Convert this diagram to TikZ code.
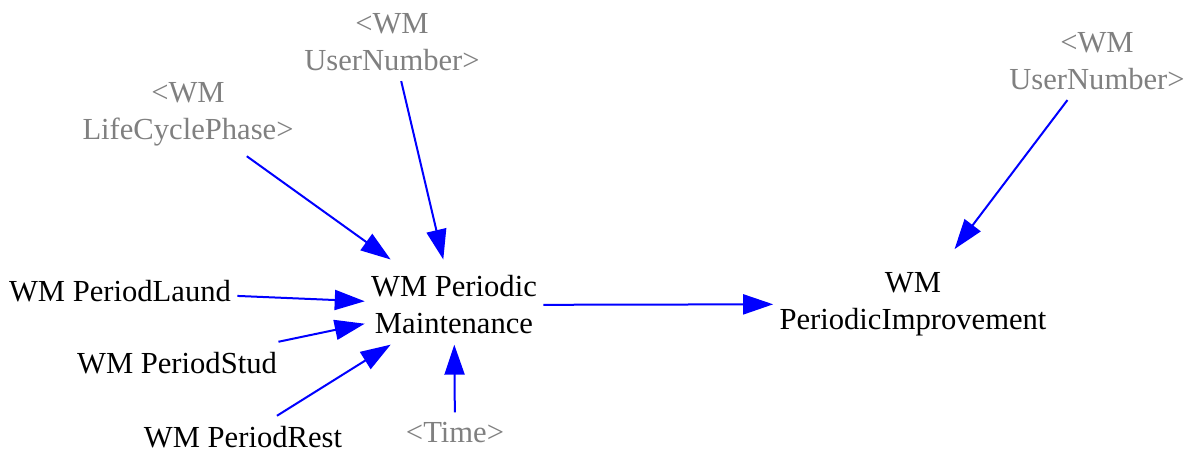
\documentclass[tikz,border=0pt]{standalone}
\usepackage{fontspec}
\setmainfont{Liberation Serif}
\usepackage{xcolor}
\usetikzlibrary{arrows.meta}
\definecolor{cLink}{RGB}{0,0,255}
\definecolor{cShadow}{RGB}{128,128,128}
\tikzset{
	var/.style   ={rectangle, align=center, inner xsep=3pt, inner ysep=5pt, font=\fontsize{15.3}{18.5}\selectfont, text=black},
	shadow/.style={var, text=cShadow},
	link/.style  ={-{Triangle[length=15pt, width=10pt]}, line width=1pt, cLink},
}
\begin{document}
\begin{tikzpicture}[x=0.5pt, y=-0.5pt]
	\useasboundingbox (0,0) rectangle (1190,452);
	% shadow variables
	\node[shadow] (userA) at (392,42)   {<WM\\UserNumber>};
	\node[shadow] (life)  at (188,114)  {<WM\\LifeCyclePhase>};
	\node[shadow] (userB) at (1097,61)  {<WM\\UserNumber>};
	\node[shadow] (time)  at (455,433)  {<Time>};
	% model variables
	\node[var] (laund) at (120,291) {WM PeriodLaund};
	\node[var] (stud)  at (177,363) {WM PeriodStud};
	\node[var] (rest)  at (243,437) {WM PeriodRest};
	\node[var] (maint) at (454,305) {WM Periodic\\Maintenance};
	\node[var] (impr)  at (913,304) {WM\\PeriodicImprovement};
	% links
	\draw[link, shorten >=3pt] (userA) -- (maint);
	\draw[link, shorten >=5pt] (life)  -- (maint);
	\draw[link] (laund) -- (maint);
	\draw[link] (stud)  -- (maint);
	\draw[link] (rest)  -- (maint);
	\draw[link] (time)  -- (maint);
	\draw[link] (maint) -- (impr);
	\draw[link, shorten >=8pt] (userB) -- (impr);
\end{tikzpicture}
\end{document}
